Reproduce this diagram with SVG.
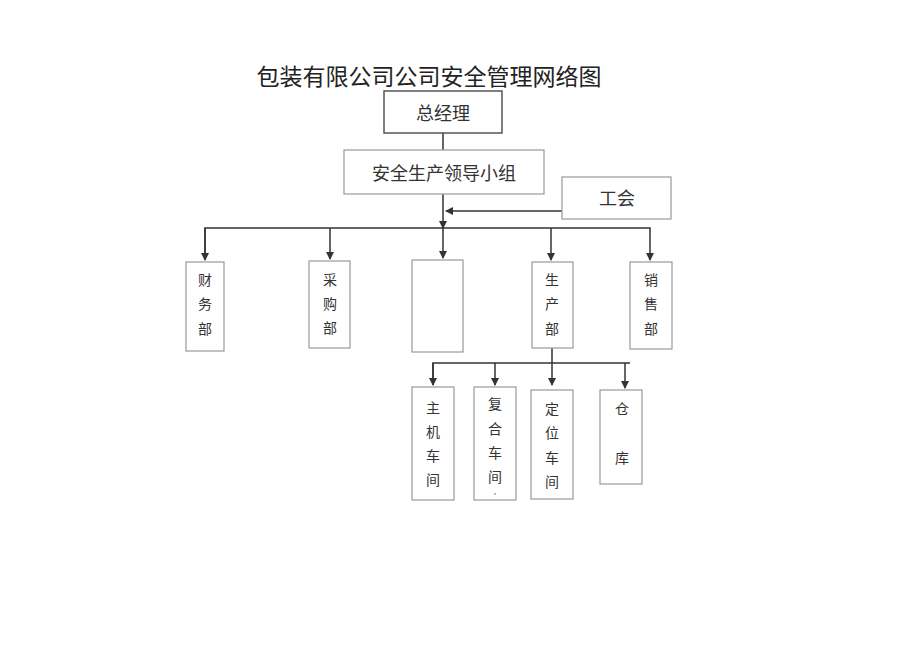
<svg xmlns="http://www.w3.org/2000/svg" width="920" height="651" viewBox="0 0 920 651">
<style>
text{font-family:"Liberation Serif","Noto Sans CJK SC",serif;fill:#333;text-anchor:middle}
.box{fill:#fff;stroke:#999;stroke-width:1.2}
.line{stroke:#333;stroke-width:1.5;fill:none}
.v{font-size:14px}
</style>
<defs>
<marker id="ah" markerWidth="8" markerHeight="8" refX="7" refY="4" orient="auto" markerUnits="userSpaceOnUse">
<path d="M0,0 L8,4 L0,8 Z" fill="#333"/>
</marker>
</defs>
<rect width="920" height="651" fill="#fff"/>
<text x="429" y="85" font-size="23" style="fill:#222;font-family:'Noto Sans CJK SC',sans-serif">包装有限公司公司安全管理网络图</text>
<g id="connectors">
<line class="line" x1="443" y1="133" x2="443" y2="150"/>
<line class="line" x1="443" y1="194" x2="443" y2="228" marker-end="url(#ah)"/>
<line class="line" x1="562" y1="211" x2="446" y2="211" marker-end="url(#ah)"/>
<polyline class="line" points="205,260 205,228 650,228 650,260" marker-end="url(#ah)"/>
<line class="line" x1="205" y1="228" x2="205" y2="260" marker-end="url(#ah)"/>
<line class="line" x1="330" y1="228" x2="330" y2="259" marker-end="url(#ah)"/>
<line class="line" x1="443" y1="228" x2="443" y2="258" marker-end="url(#ah)"/>
<line class="line" x1="551" y1="228" x2="551" y2="260" marker-end="url(#ah)"/>
<line class="line" x1="552" y1="348" x2="552" y2="385" marker-end="url(#ah)"/>
<polyline class="line" points="433,385 433,363 630,363"/>
<line class="line" x1="433" y1="363" x2="433" y2="385" marker-end="url(#ah)"/>
<line class="line" x1="495" y1="363" x2="495" y2="385" marker-end="url(#ah)"/>
<line class="line" x1="625" y1="363" x2="625" y2="388" marker-end="url(#ah)"/>
</g>
<g id="gm"><rect x="384" y="91" width="118" height="42" fill="#fff" stroke="#555" stroke-width="1.5"/><text x="443" y="120" font-size="18">总经理</text></g>
<g id="lead"><rect class="box" x="344" y="150" width="200" height="44"/><text x="444" y="180" font-size="18">安全生产领导小组</text></g>
<g id="union"><rect class="box" x="562" y="177" width="109" height="42"/><text x="617" y="205" font-size="18">工会</text></g>
<g id="fin"><rect class="box" x="186" y="262" width="38" height="89"/><text class="v" x="205" y="285">财</text><text class="v" x="205" y="309">务</text><text class="v" x="205" y="334">部</text></g>
<g id="pur"><rect class="box" x="309" y="261" width="41" height="87"/><text class="v" x="330" y="285">采</text><text class="v" x="330" y="309">购</text><text class="v" x="330" y="333">部</text></g>
<g id="empty"><rect class="box" x="412" y="260" width="51" height="92"/></g>
<g id="prod"><rect class="box" x="532" y="262" width="41" height="86"/><text class="v" x="552" y="285">生</text><text class="v" x="552" y="309">产</text><text class="v" x="552" y="334">部</text></g>
<g id="sales"><rect class="box" x="630" y="262" width="42" height="87"/><text class="v" x="651" y="285">销</text><text class="v" x="651" y="309">售</text><text class="v" x="651" y="334">部</text></g>
<g id="main"><rect class="box" x="412" y="387" width="42" height="113"/><text class="v" x="433" y="413">主</text><text class="v" x="433" y="437">机</text><text class="v" x="433" y="461">车</text><text class="v" x="433" y="485">间</text></g>
<g id="comp"><rect class="box" x="474" y="387" width="42" height="113"/><text class="v" x="495" y="409">复</text><text class="v" x="495" y="434">合</text><text class="v" x="495" y="458">车</text><text class="v" x="495" y="482">间</text><circle cx="495" cy="494" r="0.8" fill="#666"/></g>
<g id="pos"><rect class="box" x="531" y="390" width="42" height="109"/><text class="v" x="552" y="414">定</text><text class="v" x="552" y="438">位</text><text class="v" x="552" y="463">车</text><text class="v" x="552" y="487">间</text></g>
<g id="store"><rect class="box" x="600" y="390" width="42" height="94"/><text class="v" x="622" y="414">仓</text><text class="v" x="622" y="463">库</text></g>
</svg>
